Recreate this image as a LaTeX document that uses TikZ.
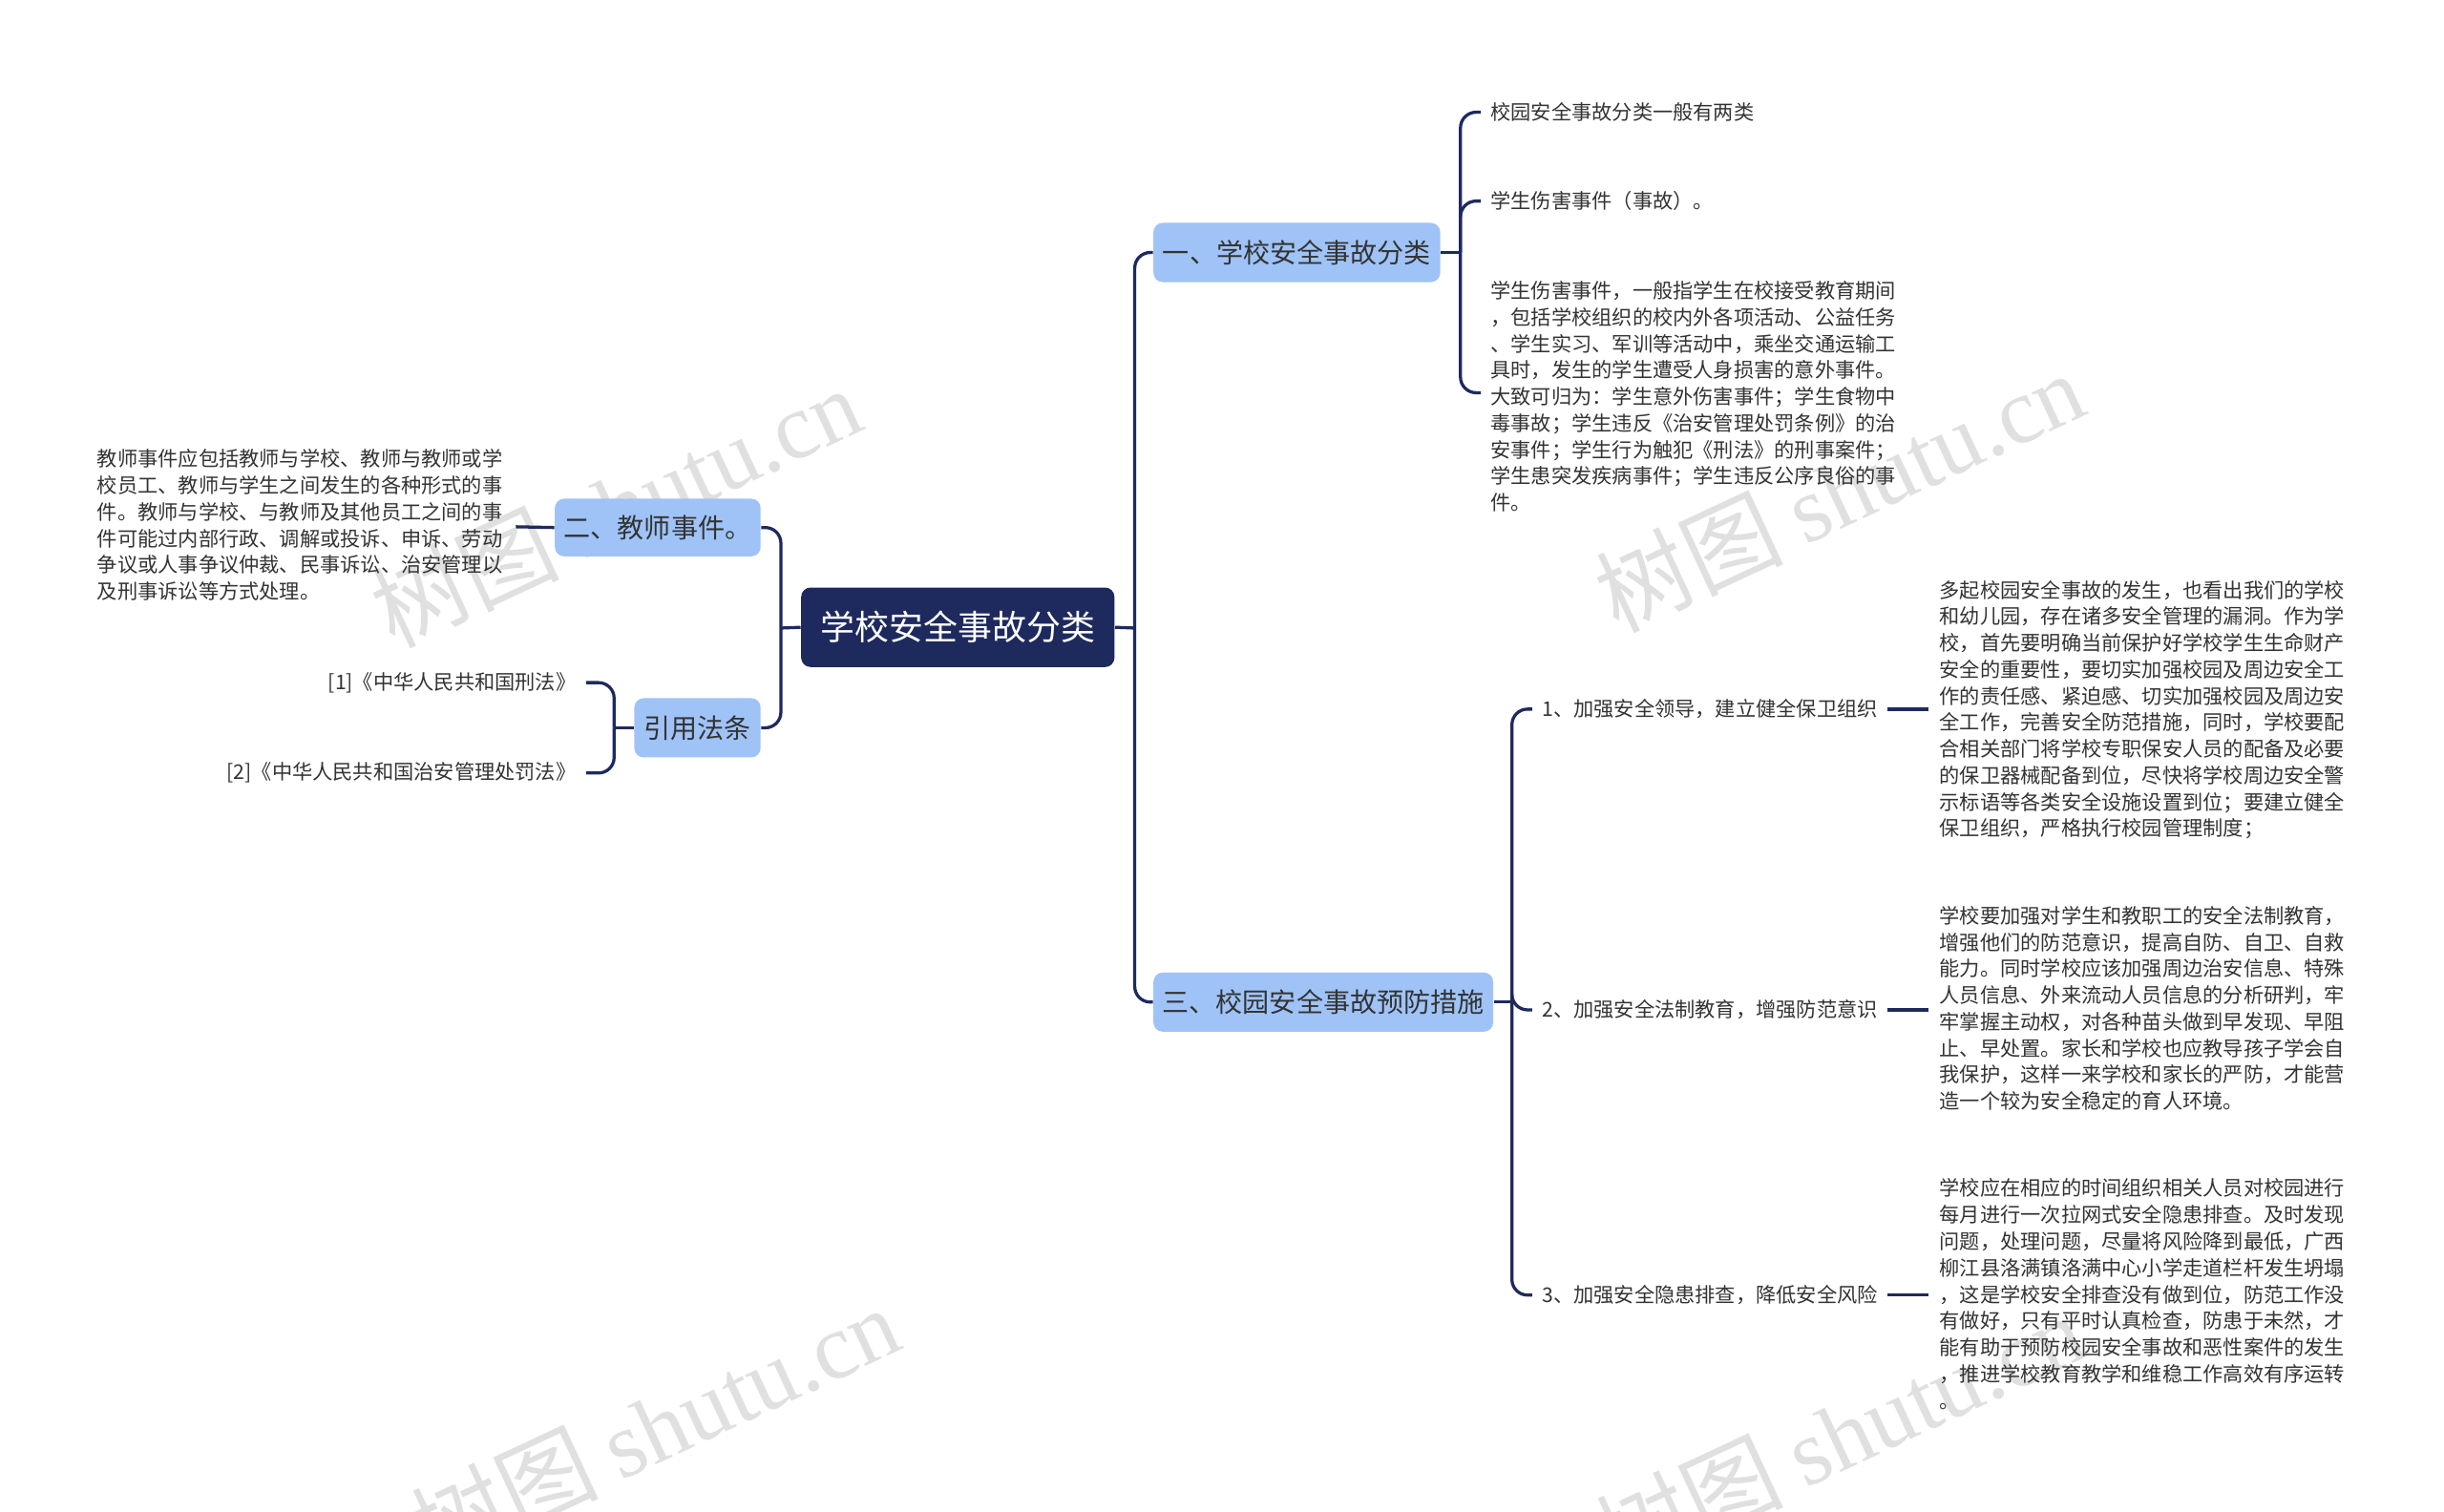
\documentclass[tikz,border=0pt]{standalone}
\usepackage{fontspec}
\setmainfont{Noto Sans CJK SC}
\newfontfamily\wmfont{Liberation Serif}
\begin{document}
\begin{tikzpicture}[x=0.5pt,y=-0.5pt,
  ln/.style={draw=navy,line width=1pt,rounded corners=5pt},
  br/.style={fill=lb,rounded corners=3pt,font=\fontsize{8.6pt}{10pt}\selectfont,text=tx,inner sep=0pt},
  lf/.style={font=\fontsize{6.5pt}{8.5pt}\selectfont,text=tx,inner sep=0pt,align=left},
  wm/.style={font=\fontsize{30pt}{30pt}\selectfont,text=black!12,rotate=25}]
\definecolor{navy}{HTML}{1E2A5E}
\definecolor{lb}{HTML}{9FC3F7}
\definecolor{tx}{HTML}{333333}
\useasboundingbox (0,0) rectangle (1568,970);
\fill[white] (0,0) rectangle (1568,970);
% watermarks
\node[wm] (w1) at (395,325) {树图 {\wmfont shutu.cn}};
\node[wm] (w2) at (1180,315) {树图 {\wmfont shutu.cn}};
\node[wm] (w3) at (420,915) {树图 {\wmfont shutu.cn}};
\node[wm] (w4) at (1180,920) {树图 {\wmfont shutu.cn}};
% root
\node[fill=navy,rounded corners=3pt,minimum width=201pt*0.5,minimum height=51pt*0.5,text=white,font=\fontsize{11pt}{13pt}\selectfont] (root) at (614.5,402.5) {学校安全事故分类};
% branches
\node[br,minimum width=92pt,minimum height=19pt] (b1) at (832,162) {一、学校安全事故分类};
\node[br,minimum width=109pt,minimum height=19pt] (b3) at (849,643) {三、校园安全事故预防措施};
\node[br,minimum width=66pt,minimum height=18.5pt] (b2) at (422,338.5) {二、教师事件。};
\node[br,minimum width=40.5pt,minimum height=19pt] (b4) at (447.5,467) {引用法条};
\coordinate (rr) at (728,403);
\coordinate (rl) at (501,403);
\draw[ln] (root.east) -- (rr);
\draw[ln] (rr) |- (b1.west);
\draw[ln] (rr) |- (b3.west);
\draw[ln] (root.west) -- (rl);
\draw[ln] (rl) |- (b2.east);
\draw[ln] (rl) |- (b4.east);
% branch 1 leaves
\node[lf,anchor=west] (l11) at (956,72) {校园安全事故分类一般有两类};
\node[lf,anchor=west] (l12) at (956,129) {学生伤害事件（事故）。};
\node[lf,anchor=north west] (l13) at (956,180) {学生伤害事件，一般指学生在校接受教育期间\\，包括学校组织的校内外各项活动、公益任务\\、学生实习、军训等活动中，乘坐交通运输工\\具时，发生的学生遭受人身损害的意外事件。\\大致可归为：学生意外伤害事件；学生食物中\\毒事故；学生违反《治安管理处罚条例》的治\\安事件；学生行为触犯《刑法》的刑事案件；\\学生患突发疾病事件；学生违反公序良俗的事\\件。};
\coordinate (c1) at (937,162);
\coordinate (e13) at (950,252);
\draw[ln] (b1.east) -- (c1);
\draw[ln] (c1) |- ([xshift=-3pt]l11.west);
\draw[ln] (c1) |- ([xshift=-3pt]l12.west);
\draw[ln] (c1) |- (e13);
% branch 3 leaves
\node[lf,anchor=west] (l31) at (989,455) {1、加强安全领导，建立健全保卫组织};
\node[lf,anchor=west] (l32) at (989,648) {2、加强安全法制教育，增强防范意识};
\node[lf,anchor=west] (l33) at (989,831) {3、加强安全隐患排查，降低安全风险};
\coordinate (c3) at (970,643);
\draw[ln] (b3.east) -- (c3);
\draw[ln] (c3) |- ([xshift=-3pt]l31.west);
\draw[ln] (c3) |- ([xshift=-3pt]l32.west);
\draw[ln] (c3) |- ([xshift=-3pt]l33.west);
\node[lf,anchor=north west] (p1) at (1244,372) {多起校园安全事故的发生，也看出我们的学校\\和幼儿园，存在诸多安全管理的漏洞。作为学\\校，首先要明确当前保护好学校学生生命财产\\安全的重要性，要切实加强校园及周边安全工\\作的责任感、紧迫感、切实加强校园及周边安\\全工作，完善安全防范措施，同时，学校要配\\合相关部门将学校专职保安人员的配备及必要\\的保卫器械配备到位，尽快将学校周边安全警\\示标语等各类安全设施设置到位；要建立健全\\保卫组织，严格执行校园管理制度；};
\node[lf,anchor=north west] (p2) at (1244,581) {学校要加强对学生和教职工的安全法制教育，\\增强他们的防范意识，提高自防、自卫、自救\\能力。同时学校应该加强周边治安信息、特殊\\人员信息、外来流动人员信息的分析研判，牢\\牢掌握主动权，对各种苗头做到早发现、早阻\\止、早处置。家长和学校也应教导孩子学会自\\我保护，这样一来学校和家长的严防，才能营\\造一个较为安全稳定的育人环境。};
\node[lf,anchor=north west] (p3) at (1244,756) {学校应在相应的时间组织相关人员对校园进行\\每月进行一次拉网式安全隐患排查。及时发现\\问题，处理问题，尽量将风险降到最低，广西\\柳江县洛满镇洛满中心小学走道栏杆发生坍塌\\，这是学校安全排查没有做到位，防范工作没\\有做好，只有平时认真检查，防患于未然，才\\能有助于预防校园安全事故和恶性案件的发生\\，推进学校教育教学和维稳工作高效有序运转\\。};
\draw[ln] ([xshift=3pt]l31.east) -- (1237,455);
\draw[ln] ([xshift=3pt]l32.east) -- (1237,648);
\draw[ln] ([xshift=3pt]l33.east) -- (1237,831);
% branch 2
\node[lf,anchor=north west] (t2) at (62,288) {教师事件应包括教师与学校、教师与教师或学\\校员工、教师与学生之间发生的各种形式的事\\件。教师与学校、与教师及其他员工之间的事\\件可能过内部行政、调解或投诉、申诉、劳动\\争议或人事争议仲裁、民事诉讼、治安管理以\\及刑事诉讼等方式处理。};
\draw[ln] (b2.west) -- (331,338);
% citations
\node[lf,anchor=east] (r1) at (370,438) {[1]《中华人民共和国刑法》};
\node[lf,anchor=east] (r2) at (370,496) {[2]《中华人民共和国治安管理处罚法》};
\coordinate (c4) at (394,467);
\draw[ln] (b4.west) -- (c4);
\draw[ln] (c4) |- ([xshift=3pt]r1.east);
\draw[ln] (c4) |- ([xshift=3pt]r2.east);
\end{tikzpicture}
\end{document}
